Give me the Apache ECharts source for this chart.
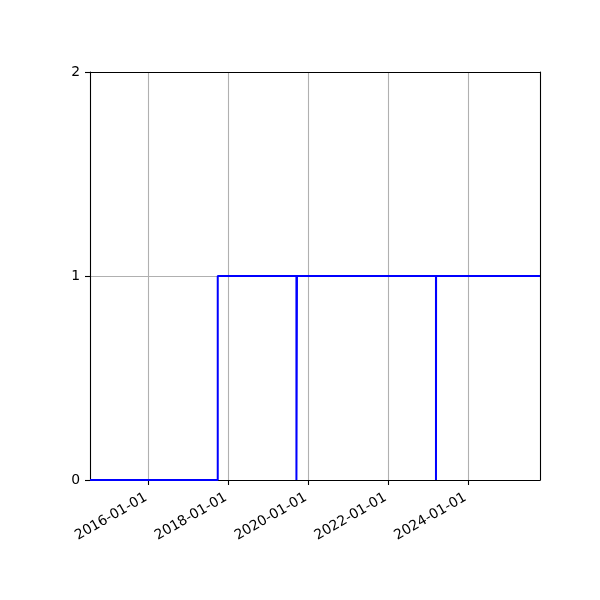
<!DOCTYPE html>
<html>
<head>
<meta charset="utf-8">
<script src="https://cdn.jsdelivr.net/npm/echarts@6/dist/echarts.min.js"></script>
<style>
  html, body { margin: 0; padding: 0; background: #fff; }
  #chart { width: 600px; height: 600px; }
</style>
</head>
<body>
<div id="chart"></div>
<script>
// ---- data ----
const xRange = ['2014-07-13', '2025-10-21'];
const stepDates = ['2014-07-13', '2017-09-24', '2019-09-14', '2019-09-19', '2023-03-14', '2023-03-15', '2025-10-21'];
const stepValues = [0, 1, 0, 1, 0, 1, 1];
const xTickLabels = ['2016-01-01', '2018-01-01', '2020-01-01', '2022-01-01', '2024-01-01'];
const yTicks = [0, 1, 2];

function toMs(s) { return Date.parse(s + 'T00:00:00Z'); }
const xTickValues = xTickLabels.map(toMs);
const seriesData = stepDates.map((d, i) => [toMs(d), stepValues[i]]);

const chart = echarts.init(document.getElementById('chart'), null, { renderer: 'canvas' });
const font = 'DejaVu Sans';
const spine = { show: true, onZero: false, lineStyle: { color: '#000', width: 1.1 } };
chart.setOption({
  animation: false,
  backgroundColor: '#ffffff',
  grid: { left: 90, right: 60, top: 72, bottom: 120, show: false },
  xAxis: [{
    type: 'value',
    scale: true,
    position: 'bottom',
    min: toMs(xRange[0]),
    max: toMs(xRange[1]),
    axisLine: spine,
    axisTick: { show: true, length: 5, lineStyle: { color: '#000', width: 1.1 }, customValues: xTickValues },
    axisLabel: {
      customValues: xTickValues,
      rotate: 30,
      margin: 15,
      padding: [0, 3, 0, 0],
      color: '#000',
      fontFamily: font,
      fontSize: 13.9,
      formatter: function (v) {
        const d = new Date(v);
        const p = n => String(n).padStart(2, '0');
        return d.getUTCFullYear() + '-' + p(d.getUTCMonth() + 1) + '-' + p(d.getUTCDate());
      }
    },
    splitLine: { show: true, lineStyle: { color: '#b0b0b0', width: 1.1 } }
  }, {
    type: 'value',
    scale: true,
    position: 'top',
    min: toMs(xRange[0]),
    max: toMs(xRange[1]),
    axisLine: spine,
    axisTick: { show: false },
    axisLabel: { show: false },
    splitLine: { show: false }
  }],
  yAxis: [{
    type: 'value',
    position: 'left',
    min: yTicks[0],
    max: yTicks[yTicks.length - 1],
    interval: 1,
    axisLine: spine,
    axisTick: { show: true, length: 5, lineStyle: { color: '#000', width: 1.1 } },
    axisLabel: { margin: 10, color: '#000', fontFamily: font, fontSize: 13.9 },
    splitLine: { show: true, lineStyle: { color: '#b0b0b0', width: 1.1 } }
  }, {
    type: 'value',
    position: 'right',
    min: yTicks[0],
    max: yTicks[yTicks.length - 1],
    interval: 1,
    axisLine: spine,
    axisTick: { show: false },
    axisLabel: { show: false },
    splitLine: { show: false }
  }],
  series: [{
    type: 'line',
    step: 'end',
    xAxisIndex: 0,
    yAxisIndex: 0,
    data: seriesData,
    showSymbol: false,
    symbol: 'none',
    lineStyle: { color: '#0000ff', width: 2 },
    z: 3
  }]
});
</script>
</body>
</html>
